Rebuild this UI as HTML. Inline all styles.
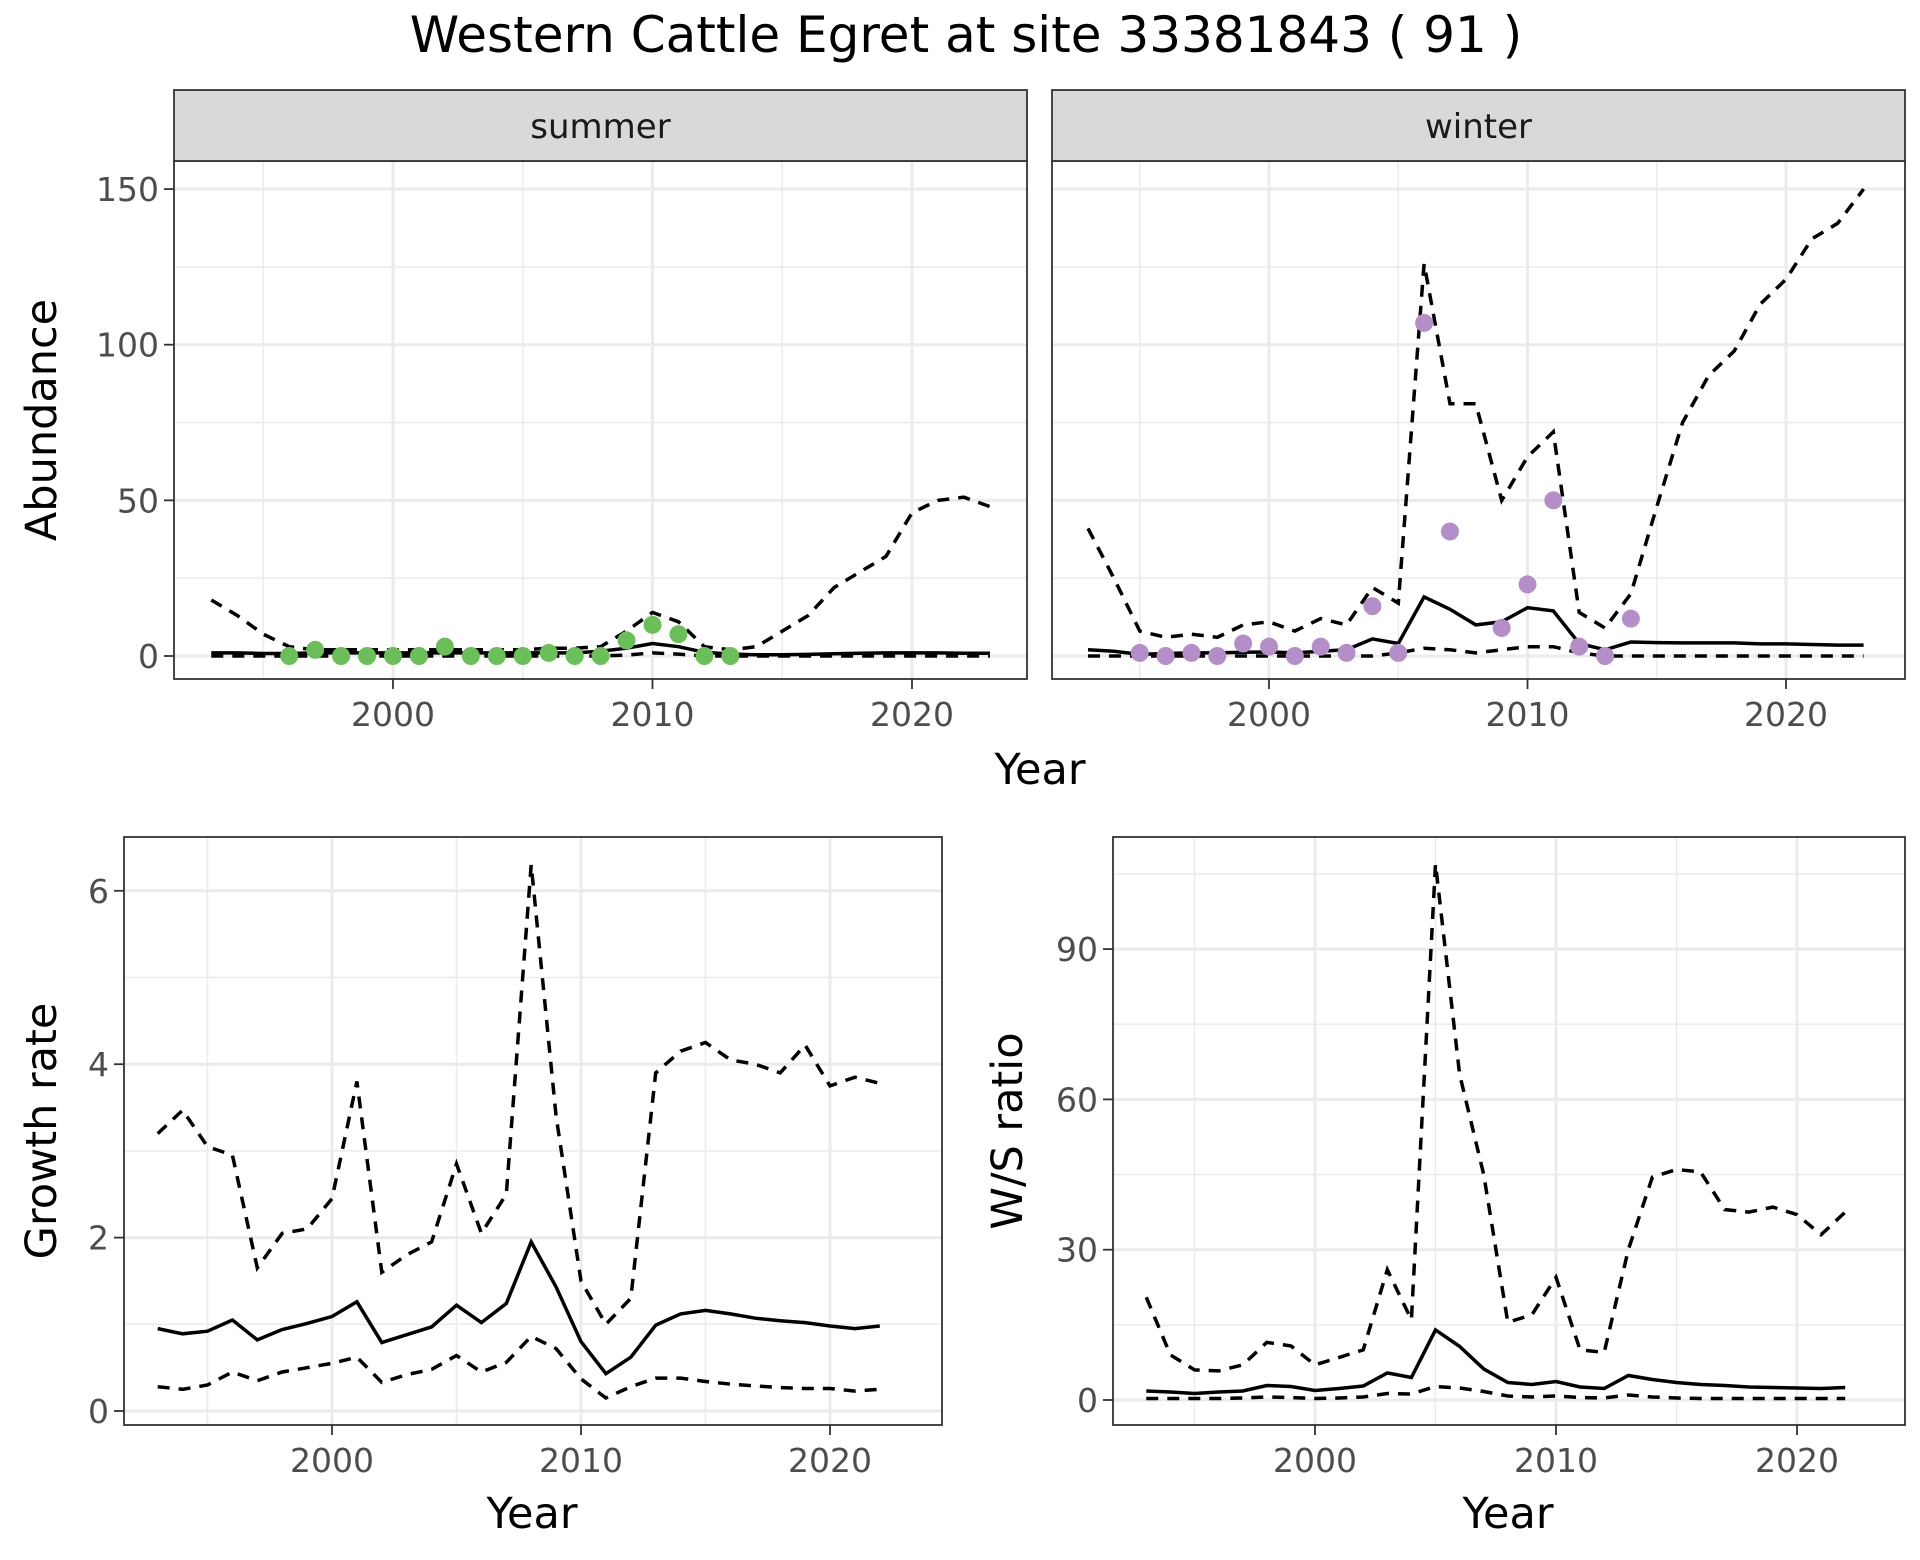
<!DOCTYPE html>
<html><head><meta charset="utf-8"><style>
html,body{margin:0;padding:0;background:#fff}
svg{display:block;font-family:"DejaVu Sans","Liberation Sans",sans-serif}
</style></head><body>
<svg id="chart" width="1920" height="1560" viewBox="0 0 1920 1560">
<text x="966" y="52" font-size="50" text-anchor="middle">Western Cattle Egret at site 33381843 ( 91 )</text>
</svg>
<script>
const summerYears=[1993,1994,1995,1996,1997,1998,1999,2000,2001,2002,2003,2004,2005,2006,2007,2008,2009,2010,2011,2012,2013,2014,2015,2016,2017,2018,2019,2020,2021,2022,2023];
const summerMean=[1,1,0.8,0.8,1,1,1,1,1,1,1,1,1,1,1,1.5,2.5,4,3,1.2,0.6,0.4,0.4,0.5,0.7,0.9,1,1,1,0.9,0.9];
const summerUpper=[18,13,7,3,2,2,2,2,2,2,2,2,2,2.5,2.5,3,8,14,11,3,2,3,8,13,22,27,32,46,50,51,48];
const summerLower=[0,0,0,0,0,0,0,0,0,0,0,0,0,0,0,0,0.3,1,0.6,0,0,0,0,0,0,0,0,0,0,0,0];
const summerObsYears=[1996,1997,1998,1999,2000,2001,2002,2003,2004,2005,2006,2007,2008,2009,2010,2011,2012,2013];
const summerObs=[0,2,0,0,0,0,3,0,0,0,1,0,0,5,10,7,0,0];
const winterYears=summerYears;
const winterMean=[2,1.5,0.5,0.8,1,1,1.2,1.3,1,1.5,2,5.5,4,19,15,10,11,15.5,14.5,4,2,4.5,4.3,4.2,4.2,4.2,3.9,3.9,3.7,3.5,3.5];
const winterUpper=[41,25,8,6,7,6,10,11,8,12,10,22,17,126,81,81,50,64,72,14,9,20,48,75,90,98,113,121,134,139,150];
const winterLower=[0,0,0,0,0,0,0,0,0,0,0,0,1,2.5,2,1,2,3,3,1,0,0,0,0,0,0,0,0,0,0,0];
const winterObsYears=[1995,1996,1997,1998,1999,2000,2001,2002,2003,2004,2005,2006,2007,2009,2010,2011,2012,2013,2014];
const winterObs=[1,0,1,0,4,3,0,3,1,16,1,107,40,9,23,50,3,0,12];
const rateYears=[1993,1994,1995,1996,1997,1998,1999,2000,2001,2002,2003,2004,2005,2006,2007,2008,2009,2010,2011,2012,2013,2014,2015,2016,2017,2018,2019,2020,2021,2022];
const growthMean=[0.95,0.89,0.92,1.05,0.82,0.94,1.01,1.09,1.26,0.79,0.88,0.97,1.22,1.02,1.24,1.95,1.43,0.8,0.43,0.62,0.99,1.12,1.16,1.12,1.07,1.04,1.02,0.98,0.95,0.98];
const growthUpper=[3.2,3.47,3.05,2.95,1.65,2.05,2.1,2.45,3.8,1.6,1.8,1.95,2.85,2.05,2.5,6.3,3.4,1.5,1.0,1.3,3.9,4.15,4.25,4.05,4.0,3.9,4.22,3.75,3.85,3.78];
const growthLower=[0.28,0.25,0.3,0.45,0.35,0.45,0.5,0.55,0.62,0.33,0.42,0.48,0.64,0.45,0.56,0.86,0.72,0.37,0.15,0.28,0.38,0.38,0.34,0.31,0.29,0.27,0.26,0.26,0.23,0.25];
const ratioMean=[1.8,1.6,1.3,1.6,1.8,2.9,2.7,1.9,2.3,2.8,5.4,4.5,14,10.7,6.2,3.5,3.1,3.7,2.6,2.3,4.9,4.1,3.5,3.1,2.9,2.6,2.5,2.4,2.3,2.5];
const ratioUpper=[20.5,9,6,5.8,7,11.5,10.8,7,8.5,10,26,16,107,65,45,15.5,17,24.5,10,9.5,30,44.5,46,45.5,38,37.5,38.5,37,33,37.5];
const ratioLower=[0.3,0.3,0.3,0.3,0.4,0.6,0.5,0.3,0.4,0.6,1.3,1.2,2.7,2.4,1.7,0.8,0.6,0.8,0.5,0.4,1.0,0.6,0.4,0.3,0.3,0.3,0.3,0.3,0.3,0.3];
const abundTicks=[0,50,100,150];
const growthTicks=[0,2,4,6];
const ratioTicks=[0,30,60,90];
const yearTicks=[2000,2010,2020];

const svg=document.getElementById('chart');
const NS='http://www.w3.org/2000/svg';
function mk(tag,attrs,parent){const e=document.createElementNS(NS,tag);for(const k in attrs)e.setAttribute(k,attrs[k]);(parent||svg).appendChild(e);return e;}

function panel(o){
  const g=mk('g',{});
  
  
  const sx=v=>o.x0+(v-2000)*o.pxYr;
  const sy=v=>o.y0-(v)*o.pxUnit;
  mk('rect',{x:o.L,y:o.T,width:o.R-o.L,height:o.B-o.T,fill:'#fff'},g);
  for(let yr=1990;yr<=2030;yr+=5){const x=sx(yr);if(x>o.L&&x<o.R){mk('line',{x1:x,x2:x,y1:o.T,y2:o.B,stroke:'#ebebeb','stroke-width':yr%10?1.5:3},g);}}
  for(let k=-2;k<12;k++){const v=k*o.minorStep;const y=sy(v);if(y>o.T&&y<o.B){mk('line',{x1:o.L,x2:o.R,y1:y,y2:y,stroke:'#ebebeb','stroke-width':(k%2)?1.5:3},g);}}
  const path=(xs,ys,dash)=>{let d='';xs.forEach((yr,i)=>{if(ys[i]==null)return;d+=(d?'L':'M')+sx(yr).toFixed(1)+','+sy(ys[i]).toFixed(1);});
    const p=mk('path',{d:d,fill:'none',stroke:'#000','stroke-width':3.5,'stroke-dasharray':dash||'none'},g);return p;};
  const pu=path(o.years,o.upper,'12,9');
  const pl=path(o.years,o.lower,'12,9');
  const pm=path(o.years,o.mean,null);
  if(o.obsY){o.obsY.forEach((yr,i)=>{const c=mk('circle',{cx:sx(yr),cy:sy(o.obs[i]),r:9,fill:o.color},g);
    });}
  mk('rect',{x:o.L,y:o.T,width:o.R-o.L,height:o.B-o.T,fill:'none',stroke:'#333','stroke-width':1.8},g);
  if(o.strip){const s=mk('rect',{x:o.L,y:o.T-71,width:o.R-o.L,height:71,fill:'#d9d9d9',stroke:'#333','stroke-width':1.8},g);
    
    const t=mk('text',{x:(o.L+o.R)/2,y:o.T-23,'font-size':34,'text-anchor':'middle',fill:'#1a1a1a'},g);t.textContent=o.strip;
    }
  yearTicks.forEach(yr=>{const x=sx(yr);mk('line',{x1:x,x2:x,y1:o.B,y2:o.B+10,stroke:'#333','stroke-width':1.8},g);
    const t=mk('text',{x:x,y:o.B+47,'font-size':33,'text-anchor':'middle',fill:'#4d4d4d'},g);t.textContent=yr;
    });
  if(o.yTicks){o.yTicks.forEach(v=>{const y=sy(v);mk('line',{x1:o.L-10,x2:o.L,y1:y,y2:y,stroke:'#333','stroke-width':1.8},g);
    const t=mk('text',{x:o.L-15,y:y+12,'font-size':33,'text-anchor':'end',fill:'#4d4d4d'},g);t.textContent=v;
    });}
  if(o.yTitle){const cy=(o.T+o.B)/2;const t=mk('text',{x:o.yTitleX,y:cy,'font-size':43,'text-anchor':'middle','dominant-baseline':'central',transform:`rotate(-90 ${o.yTitleX} ${cy})`},g);t.textContent=o.yTitle;
    }
}
panel({name:'summer-panel',L:174,R:1027,T:161,B:679,x0:393,pxYr:25.95,y0:656,pxUnit:3.113,minorStep:25,years:summerYears,mean:summerMean,upper:summerUpper,lower:summerLower,obsY:summerObsYears,obs:summerObs,color:'#6abf59',strip:'summer',yTicks:abundTicks,yTitle:'Abundance',yTitleX:42});
panel({name:'winter-panel',L:1052,R:1905,T:161,B:679,x0:1269,pxYr:25.85,y0:656,pxUnit:3.113,minorStep:25,years:winterYears,mean:winterMean,upper:winterUpper,lower:winterLower,obsY:winterObsYears,obs:winterObs,color:'#b48ec8',strip:'winter'});
panel({name:'growth-rate-panel',L:124,R:942,T:837,B:1425,x0:332,pxYr:24.9,y0:1411,pxUnit:86.7,minorStep:1,years:rateYears,mean:growthMean,upper:growthUpper,lower:growthLower,yTicks:growthTicks,yTitle:'Growth rate',yTitleX:42});
panel({name:'ws-ratio-panel',L:1113,R:1905,T:837,B:1425,x0:1315,pxYr:24.1,y0:1400,pxUnit:5.01,minorStep:15,years:rateYears,mean:ratioMean,upper:ratioUpper,lower:ratioLower,yTicks:ratioTicks,yTitle:'W/S ratio',yTitleX:1008});
[[1040,784],[532,1528],[1508,1528]].forEach(p=>{const t=mk('text',{x:p[0],y:p[1],'font-size':43,'text-anchor':'middle'});t.textContent='Year';
  
  });
</script>
</body></html>
